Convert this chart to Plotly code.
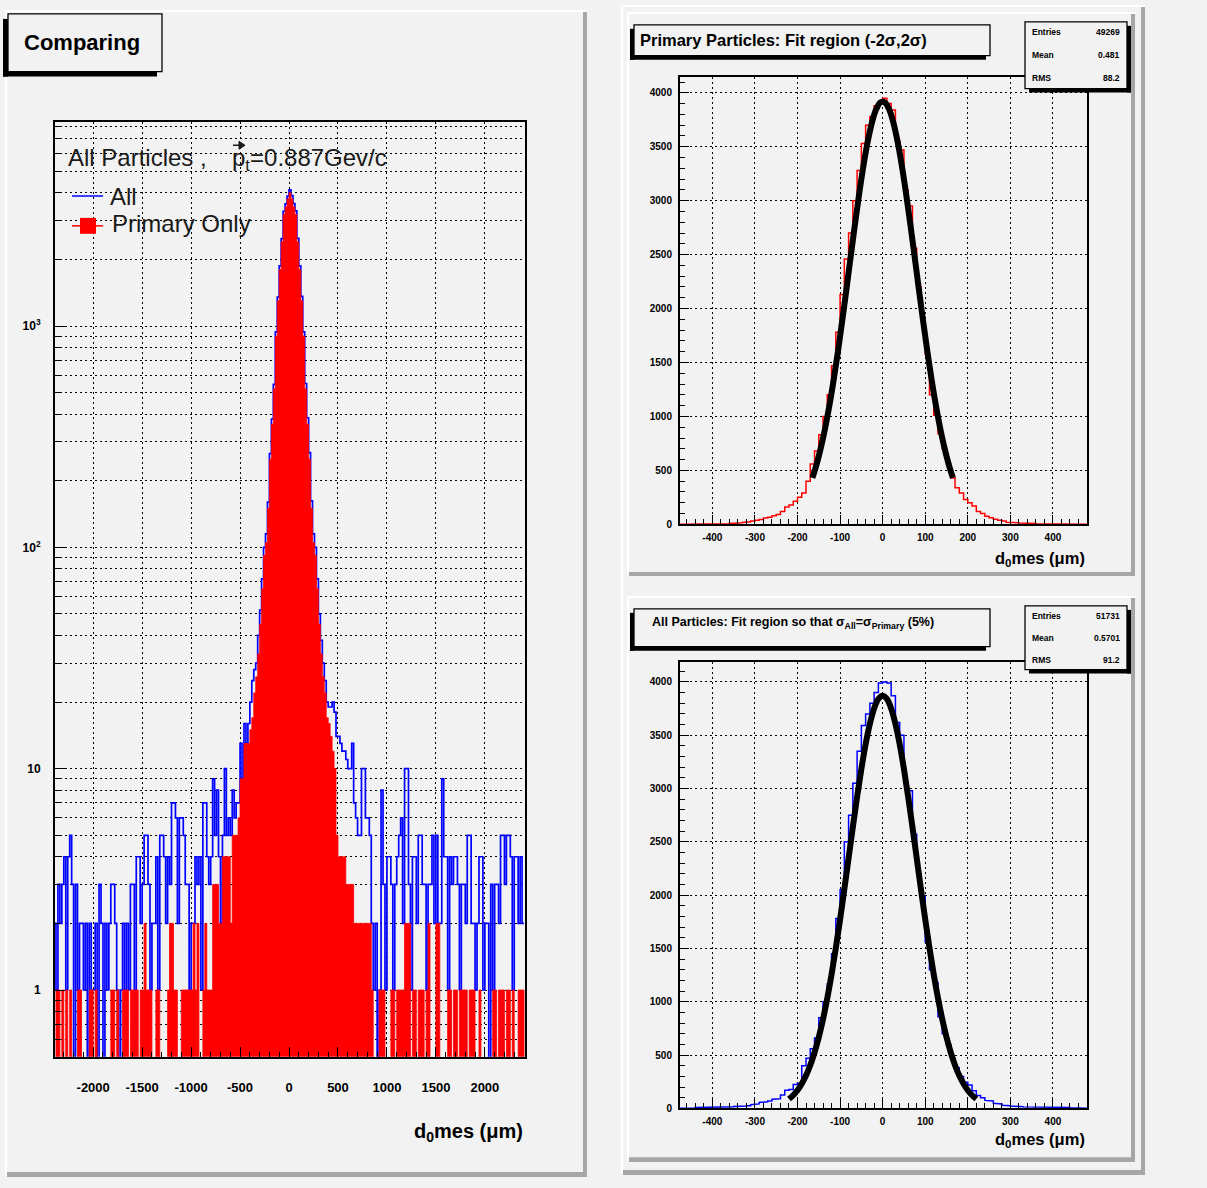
import plotly.graph_objects as go

W, H = 1207, 1188
def X(px): return px / W
def Y(py): return 1 - py / H

FONT = "Liberation Sans, Arial, Helvetica, sans-serif"
BG = "#f2f2f2"

# ---------------- Left panel data (20 um bins starting at -2400) ----------------
L_BIN_START = -2400
L_BIN_WIDTH = 20
ALL_L = [
    2, 1, 3, 2, 3, 4, 1, 4, 5, 3, 0, 3, 1, 2, 2, 1, 2, 0, 2, 1,
    1, 2, 0, 3, 2, 0, 2, 1, 2, 3, 3, 2, 1, 0, 1, 2, 1, 2, 1, 3,
    3, 1, 4, 4, 2, 3, 5, 5, 3, 1, 2, 2, 4, 1, 5, 5, 4, 2, 4, 3,
    7, 7, 6, 2, 6, 6, 5, 3, 3, 1, 2, 2, 4, 3, 4, 1, 7, 7, 4, 3,
    4, 9, 5, 8, 4, 2, 5, 10, 5, 6, 5, 8, 6, 7, 7, 13, 9, 16, 13, 16,
    20, 25, 28, 30, 40, 52, 72, 100, 115, 160, 265, 380, 545, 940, 1350, 1870, 2480, 3300, 3560, 3860,
    4120, 3880, 3570, 3310, 2490, 1870, 1360, 940, 550, 385, 268, 162, 115, 100, 72, 50, 38, 30, 25, 20,
    19, 19, 20, 18, 14, 14, 13, 12, 12, 11, 10, 10, 13, 7, 6, 5, 5, 10, 10, 6,
    6, 5, 2, 1, 2, 0, 1, 8, 3, 1, 4, 4, 3, 1, 3, 4, 5, 6, 2, 10,
    10, 3, 1, 4, 4, 2, 5, 5, 3, 3, 1, 3, 3, 5, 2, 5, 2, 2, 9, 4,
    4, 1, 4, 3, 4, 4, 3, 1, 3, 3, 2, 5, 5, 2, 2, 1, 2, 4, 4, 1,
    2, 2, 0, 3, 1, 3, 3, 2, 5, 5, 3, 5, 5, 4, 1, 4, 4, 2, 4, 2,
]
PRIM_L = [
    0, 1, 1, 0, 1, 0, 1, 0, 1, 0, 0, 0, 1, 1, 0, 0, 0, 0, 1, 1,
    0, 1, 0, 0, 0, 0, 0, 0, 0, 1, 1, 0, 1, 0, 0, 1, 1, 1, 0, 1,
    1, 1, 1, 0, 1, 1, 2, 1, 1, 1, 0, 0, 1, 1, 0, 0, 0, 0, 1, 2,
    2, 1, 1, 0, 0, 1, 1, 1, 1, 1, 1, 2, 1, 2, 0, 0, 1, 2, 1, 1,
    1, 3, 3, 3, 2, 2, 4, 4, 4, 4, 2, 5, 5, 5, 6, 9, 9, 13, 13, 13,
    15, 17, 22, 26, 33, 45, 65, 92, 105, 150, 250, 360, 520, 900, 1300, 1800, 2400, 3200, 3450, 3750,
    4000, 3750, 3450, 3200, 2400, 1800, 1300, 900, 520, 360, 250, 150, 105, 92, 65, 45, 33, 26, 22, 17,
    16, 14, 12, 10, 5, 4, 4, 4, 4, 3, 3, 3, 3, 2, 2, 2, 2, 2, 2, 2,
    2, 2, 1, 0, 0, 0, 1, 1, 1, 0, 0, 0, 1, 1, 0, 1, 1, 1, 1, 2,
    2, 2, 0, 1, 1, 0, 1, 1, 1, 0, 1, 2, 0, 0, 0, 2, 2, 0, 0, 0,
    0, 1, 1, 0, 1, 1, 0, 1, 1, 1, 1, 0, 1, 1, 1, 0, 0, 1, 0, 0,
    0, 0, 0, 0, 1, 1, 0, 1, 1, 1, 0, 1, 1, 0, 1, 0, 0, 1, 1, 1,
]

# ---------------- Right panels data (10 um bins starting at -480) ----------------
R_BIN_START = -480
R_BIN_WIDTH = 10
PRIM_R = [
    0, 0, 0, 0, 0, 0, 0, 0, 3, 5,
    4, 6, 8, 10, 14, 18, 24, 30, 38, 45,
    58, 66, 80, 92, 120, 160, 180, 215, 250, 290,
    400, 560, 680, 830, 1000, 1200, 1470, 1780, 2130, 2460,
    2700, 3000, 3280, 3530, 3700, 3780, 3880, 3920, 3950, 3900,
    3840, 3560, 3470, 3100, 2950, 2560, 2200, 1900, 1580, 1200,
    1010, 840, 700, 560, 430, 340, 290, 230, 200, 170,
    120, 100, 75, 60, 48, 38, 30, 20, 17, 14,
    12, 10, 8, 7, 5, 4, 3, 2, 3, 2,
    1, 1, 0, 0, 0, 0,
]
ALL_R = [
    0, 0, 0, 0, 8, 10, 9, 11, 12, 14,
    12, 13, 15, 17, 18, 22, 25, 35, 42, 55,
    62, 70, 85, 90, 125, 170, 178, 225, 235, 400,
    470, 560, 660, 850, 1000, 1170, 1450, 1780, 2050, 2500,
    2750, 3050, 3350, 3590, 3700, 3800, 3900, 3990, 4000, 3990,
    3870, 3620, 3500, 3050, 2980, 2570, 2200, 1990, 1560, 1300,
    1180, 860, 700, 600, 470, 380, 300, 245, 220, 166,
    120, 100, 75, 70, 48, 42, 30, 25, 22, 18,
    16, 14, 12, 11, 10, 9, 10, 8, 9, 8,
    7, 8, 6, 5, 0, 0,
]

# fitted gaussian curves
FIT_PRIM_X = list(range(-165, 166, 10))
FIT_PRIM_Y = [430, 558, 712, 893, 1103, 1341, 1602, 1885, 2181, 2484, 2782, 3067, 3326, 3549, 3726, 3849, 3912,
              3912, 3849, 3726, 3549, 3326, 3067, 2782, 2484, 2181, 1885, 1602, 1341, 1103, 893, 712, 558, 430]
FIT_ALL_X = list(range(-220, 221, 10))
FIT_ALL_Y = [88, 123, 170, 231, 308, 405, 524, 667, 837, 1034, 1256, 1504, 1772, 2055, 2347, 2639, 2921, 3183,
             3415, 3607, 3751, 3840, 3870, 3840, 3751, 3607, 3415, 3183, 2921, 2639, 2347, 2055, 1772, 1504,
             1256, 1034, 837, 667, 524, 405, 308, 231, 170, 123, 88]

LEFT_XTICKS = [-2000, -1500, -1000, -500, 0, 500, 1000, 1500, 2000]
LEFT_YTICKS = [1, 10, 100, 1000]
LEFT_YTICK_TEXT = ["1", "10", "10<sup>2</sup>", "10<sup>3</sup>"]
RIGHT_XTICKS = [-400, -300, -200, -100, 0, 100, 200, 300, 400]
RIGHT_YTICKS = [0, 500, 1000, 1500, 2000, 2500, 3000, 3500, 4000]
STATS_PRIM = [("Entries", "49269"), ("Mean", "0.481"), ("RMS", "88.2")]
STATS_ALL = [("Entries", "51731"), ("Mean", "0.5701"), ("RMS", "91.2")]

LOG_FLOOR = 0.05
DOTS = "2px,3px"


def step_xy(start, width, vals, floor=None):
    xs, ys = [], []
    for i, v in enumerate(vals):
        x0 = start + i * width
        vv = floor if (floor is not None and v <= 0) else v
        xs += [x0, x0 + width]
        ys += [vv, vv]
    return xs, ys


fig = go.Figure()

# ---- left panel ----
bx, by = step_xy(L_BIN_START, L_BIN_WIDTH, ALL_L, LOG_FLOOR)
fig.add_trace(go.Scatter(x=bx, y=by, mode="lines", line=dict(color="#0000ff", width=1.7),
                         xaxis="x", yaxis="y", hoverinfo="skip"))
rx, ry = step_xy(L_BIN_START, L_BIN_WIDTH, PRIM_L, LOG_FLOOR)
rx = [rx[0]] + rx + [rx[-1]]
ry = [LOG_FLOOR] + ry + [LOG_FLOOR]
fig.add_trace(go.Scatter(x=rx, y=ry, mode="lines", fill="toself", fillcolor="#ff0000",
                         line=dict(color="#ff0000", width=0.8), xaxis="x", yaxis="y", hoverinfo="skip"))

# ---- top right ----
px_, py_ = step_xy(R_BIN_START, R_BIN_WIDTH, PRIM_R)
fig.add_trace(go.Scatter(x=px_, y=py_, mode="lines", line=dict(color="#ff0000", width=1.5),
                         xaxis="x2", yaxis="y2", hoverinfo="skip"))
fig.add_trace(go.Scatter(x=FIT_PRIM_X, y=FIT_PRIM_Y, mode="lines", line=dict(color="black", width=6, shape="spline"),
                         xaxis="x2", yaxis="y2", hoverinfo="skip"))

# ---- bottom right ----
ax_, ay_ = step_xy(R_BIN_START, R_BIN_WIDTH, ALL_R)
fig.add_trace(go.Scatter(x=ax_, y=ay_, mode="lines", line=dict(color="#0000ff", width=1.5),
                         xaxis="x3", yaxis="y3", hoverinfo="skip"))
fig.add_trace(go.Scatter(x=FIT_ALL_X, y=FIT_ALL_Y, mode="lines", line=dict(color="black", width=6, shape="spline"),
                         xaxis="x3", yaxis="y3", hoverinfo="skip"))

grid = dict(showgrid=True, gridcolor="black", griddash=DOTS, gridwidth=1)
frame = dict(showline=True, linecolor="black", linewidth=2, mirror=True, zeroline=False,
             ticks="inside", tickcolor="black")

left_minor_x = [v for v in range(-2300, 2401, 100) if v not in LEFT_XTICKS]
left_minor_y = [k * 10 ** p for p in range(-1, 4) for k in range(2, 10) if 0.5 <= k * 10 ** p <= 8300]
right_minor_x = [v for v in range(-460, 481, 20) if v not in RIGHT_XTICKS]
right_minor_y = [v for v in range(100, 4200, 100) if v not in RIGHT_YTICKS]

fig.update_layout(
    width=W, height=H, margin=dict(l=0, r=0, t=0, b=0),
    paper_bgcolor=BG, plot_bgcolor=BG, showlegend=False,
    font=dict(family=FONT, color="black"),
    xaxis=dict(domain=[X(55), X(525)], range=[-2390, 2410], anchor="y",
               tickmode="array", tickvals=LEFT_XTICKS, ticktext=[str(v) for v in LEFT_XTICKS],
               ticklen=10, tickwidth=1, ticklabelstandoff=18,
               tickfont=dict(family=FONT, size=13, weight="bold"),
               minor=dict(tickvals=left_minor_x, ticks="inside", ticklen=5, tickcolor="black", showgrid=False),
               **grid, **frame),
    yaxis=dict(domain=[Y(1062), Y(123)], type="log", range=[-0.301, 3.92], anchor="x",
               tickmode="array", tickvals=LEFT_YTICKS, ticktext=LEFT_YTICK_TEXT,
               ticklen=10, tickwidth=1, ticklabelstandoff=10,
               tickfont=dict(family=FONT, size=12, weight="bold"),
               minor=dict(tickvals=left_minor_y, ticks="inside", ticklen=5, tickcolor="black",
                          showgrid=True, gridcolor="black", griddash=DOTS, gridwidth=1),
               **grid, **frame),
    xaxis2=dict(domain=[X(680), X(1087)], range=[-476, 480], anchor="y2",
                tickmode="array", tickvals=RIGHT_XTICKS, ticktext=[str(v) for v in RIGHT_XTICKS],
                ticklen=9, tickwidth=1, ticklabelstandoff=3,
                tickfont=dict(family=FONT, size=10, weight="bold"),
                minor=dict(tickvals=right_minor_x, ticks="inside", ticklen=5, tickcolor="black", showgrid=False),
                **grid, **frame),
    yaxis2=dict(domain=[Y(527), Y(77)], range=[0, 4150], anchor="x2",
                tickmode="array", tickvals=RIGHT_YTICKS, ticktext=[str(v) for v in RIGHT_YTICKS],
                ticklen=9, tickwidth=1, ticklabelstandoff=4,
                tickfont=dict(family=FONT, size=10, weight="bold"),
                minor=dict(tickvals=right_minor_y, ticks="inside", ticklen=5, tickcolor="black", showgrid=False),
                **grid, **frame),
    xaxis3=dict(domain=[X(680), X(1087)], range=[-476, 480], anchor="y3",
                tickmode="array", tickvals=RIGHT_XTICKS, ticktext=[str(v) for v in RIGHT_XTICKS],
                ticklen=9, tickwidth=1, ticklabelstandoff=3,
                tickfont=dict(family=FONT, size=10, weight="bold"),
                minor=dict(tickvals=right_minor_x, ticks="inside", ticklen=5, tickcolor="black", showgrid=False),
                **grid, **frame),
    yaxis3=dict(domain=[Y(1114), Y(665)], range=[0, 4190], anchor="x3",
                tickmode="array", tickvals=RIGHT_YTICKS, ticktext=[str(v) for v in RIGHT_YTICKS],
                ticklen=9, tickwidth=1, ticklabelstandoff=4,
                tickfont=dict(family=FONT, size=10, weight="bold"),
                minor=dict(tickvals=right_minor_y, ticks="inside", ticklen=5, tickcolor="black", showgrid=False),
                **grid, **frame),
)

shapes = []
def rect(x0, y0, x1, y1, fill=None, line=None, lw=0, layer="above"):
    shapes.append(dict(type="rect", xref="paper", yref="paper", x0=X(x0), x1=X(x1), y0=Y(y1), y1=Y(y0),
                       fillcolor=fill if fill else "rgba(0,0,0,0)",
                       line=dict(color=line if line else "rgba(0,0,0,0)", width=lw), layer=layer))

SHADOW = "#a6a6a6"
# pad bevels
rect(5, 10, 586, 12, fill="white", layer="below")
rect(5, 10, 7, 1182, fill="white", layer="below")
rect(583, 12, 587, 1183, fill=SHADOW, layer="below")
rect(7, 1178, 587, 1183, fill=SHADOW, layer="below")
rect(621, 5, 1145, 7, fill="white", layer="below")
rect(621, 5, 623, 1180, fill="white", layer="below")
rect(1141, 7, 1145, 1181, fill=SHADOW, layer="below")
rect(623, 1176, 1145, 1181, fill=SHADOW, layer="below")
rect(627, 12, 1135, 14, fill="white", layer="below")
rect(627, 12, 629, 578, fill="white", layer="below")
rect(1131, 14, 1135, 579, fill=SHADOW, layer="below")
rect(629, 575, 1135, 579, fill=SHADOW, layer="below")
rect(627, 599, 1135, 601, fill="white", layer="below")
rect(627, 599, 629, 1167, fill="white", layer="below")
rect(1131, 601, 1135, 1168, fill=SHADOW, layer="below")
rect(629, 1163, 1135, 1168, fill=SHADOW, layer="below")

def title_box(x0, y0, x1, y1, s=5):
    rect(x0 - s, y0 + s, x0, y1 + s, fill="black")
    rect(x0 - s, y1, x1 - s, y1 + s, fill="black")
    rect(x0, y0, x1, y1, fill=BG, line="black", lw=1.3)

def stats_box(x0, y0, x1, y1, s=4):
    rect(x1, y0 + s, x1 + s, y1 + s, fill="black")
    rect(x0 + s, y1, x1 + s, y1 + s, fill="black")
    rect(x0, y0, x1, y1, fill=BG, line="black", lw=1.3)

title_box(8, 14, 162, 72)
title_box(634, 25, 990, 56, s=4)
stats_box(1025, 22, 1127, 89)
title_box(634, 612, 990, 650, s=4)
stats_box(1025, 609, 1127, 673)

# legend symbols in left panel
shapes.append(dict(type="line", xref="paper", yref="paper", x0=X(72), x1=X(103), y0=Y(197), y1=Y(197),
                   line=dict(color="#0000ff", width=1.5), layer="above"))
shapes.append(dict(type="line", xref="paper", yref="paper", x0=X(72), x1=X(103), y0=Y(227), y1=Y(227),
                   line=dict(color="#ff0000", width=1.5), layer="above"))
rect(80, 219, 96, 235, fill="#ff0000")
# vector arrow over the p of p_t
shapes.append(dict(type="line", xref="paper", yref="paper", x0=X(233), x1=X(243), y0=Y(146), y1=Y(146),
                   line=dict(color="#1a1a1a", width=1.5), layer="above"))
shapes.append(dict(type="path", xref="paper", yref="paper",
                   path=f"M {X(239)} {Y(142)} L {X(245)} {Y(146)} L {X(239)} {Y(150)} Z",
                   fillcolor="#1a1a1a", line=dict(color="#1a1a1a", width=1), layer="above"))

fig.update_layout(shapes=shapes)

ann = []
def text(x, y, s, size, xanchor="left", bold=False, color="black"):
    ann.append(dict(xref="paper", yref="paper", x=X(x), y=Y(y), text=s, showarrow=False,
                    xanchor=xanchor, yanchor="middle",
                    font=dict(family=FONT, size=size, color=color, weight="bold" if bold else "normal")))

text(22, 43, "Comparing", 22, bold=True)
text(66, 158, "All Particles ,", 24, color="#1a1a1a")
text(230, 160, "p<sub>t</sub>=0.887Gev/c", 24, color="#1a1a1a")
text(108, 197, "All", 24, color="#1a1a1a")
text(110, 225, "Primary Only", 24, color="#1a1a1a")
text(525, 1138, "d<sub>0</sub>mes (\u03bcm)", 20, xanchor="right", bold=True)

text(638, 40, "Primary Particles: Fit region (-2\u03c3,2\u03c3)", 16.5, bold=True)
text(650, 626, "All Particles: Fit region so that \u03c3<sub>All</sub>=\u03c3<sub>Primary</sub> (5%)", 12.5, bold=True)
text(1087, 562, "d<sub>0</sub>mes (\u03bcm)", 16.5, xanchor="right", bold=True)
text(1087, 1146, "d<sub>0</sub>mes (\u03bcm)", 16.5, xanchor="right", bold=True)

for k, (lab, val) in enumerate(STATS_PRIM):
    yy = 32 + k * 23
    text(1030, yy, lab, 8.5, bold=True)
    text(1122, yy, val, 8.5, xanchor="right", bold=True)
for k, (lab, val) in enumerate(STATS_ALL):
    yy = 619 + k * 22
    text(1030, yy, lab, 8.5, bold=True)
    text(1122, yy, val, 8.5, xanchor="right", bold=True)

fig.update_layout(annotations=ann)
fig.write_html("out.html")
